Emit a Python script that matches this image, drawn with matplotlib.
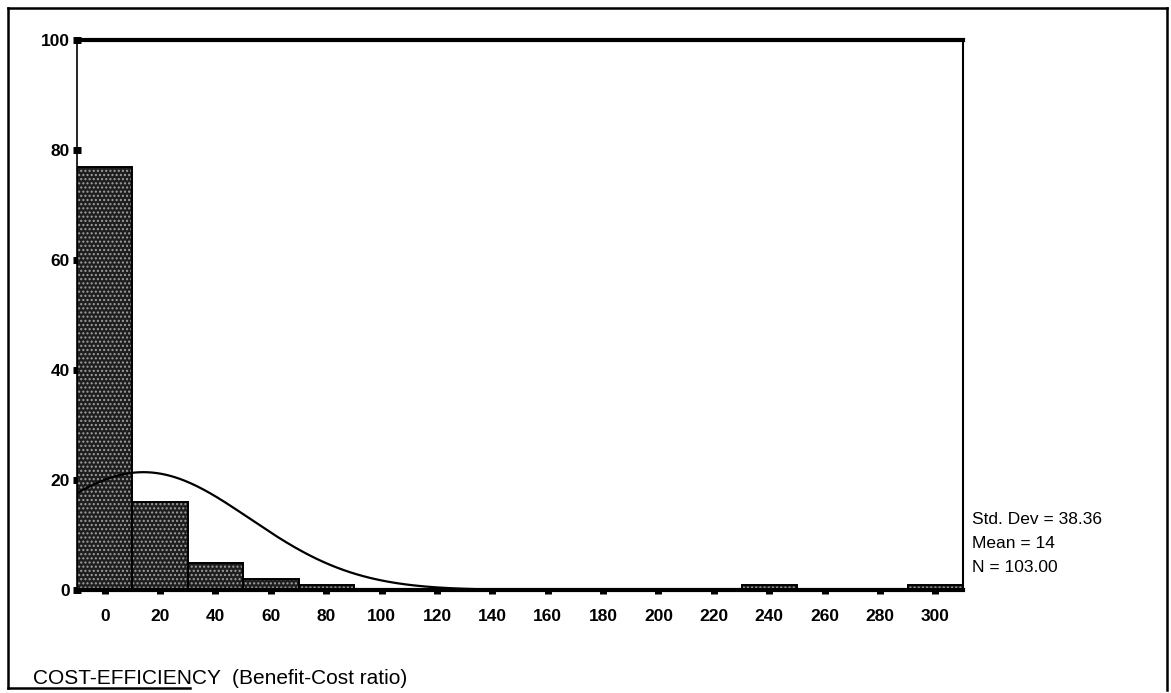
import numpy as np
import matplotlib.pyplot as plt
from matplotlib.lines import Line2D

plt.rcParams['font.family'] = ['Liberation Sans', 'DejaVu Sans']

# histogram bins (centres) and counts
bin_centers = [0, 20, 40, 60, 80, 240, 300]
counts = [77, 16, 5, 2, 1, 1, 1]
bin_width = 20

# summary statistics printed on the chart
std_dev = 38.36
mean = 14
n_total = 103

x_ticks = list(range(0, 301, 20))
y_ticks = [0, 20, 40, 60, 80, 100]

W, H = 1171, 693
fig = plt.figure(figsize=(W / 100, H / 100), dpi=100)
ax = fig.add_axes([77 / W, 1 - 590 / H, (963 - 77) / W, (590 - 40) / H])

# stippled dark bars
ax.bar(bin_centers, counts, width=bin_width, facecolor="#1e1e1e",
       edgecolor="#a0a0a0", hatch="....", linewidth=0, zorder=2)
ax.bar(bin_centers, counts, width=bin_width, fill=False,
       edgecolor="black", linewidth=1.4, zorder=3)

# normal curve with the same mean, sd and N
xs = np.linspace(-10, 310, 400)
ys = n_total * bin_width / (std_dev * np.sqrt(2 * np.pi)) * np.exp(-0.5 * ((xs - mean) / std_dev) ** 2)
ax.plot(xs, ys, color="black", linewidth=1.6, zorder=4)

ax.set_xlim(-10, 310)
ax.set_ylim(0, 100)
ax.set_xticks(x_ticks)
ax.set_yticks(y_ticks)
ax.tick_params(axis="x", direction="out", length=3, width=5, pad=11, labelsize=12.5)
ax.tick_params(axis="y", direction="inout", length=6, width=5, pad=2, labelsize=12.5)
for lab in ax.get_xticklabels() + ax.get_yticklabels():
    lab.set_fontweight("bold")

ax.spines["left"].set_linewidth(1.2)
ax.spines["right"].set_linewidth(1.5)
ax.spines["top"].set_linewidth(3)
ax.spines["bottom"].set_linewidth(3)

# stats box text at right
stats = [f"Std. Dev = {std_dev:.2f}", f"Mean = {mean}", f"N = {n_total:.2f}"]
for txt, yp in zip(stats, [520, 544, 568]):
    fig.text(972 / W, 1 - yp / H, txt, ha="left", va="center", fontsize=12.5)

fig.text(33 / W, 1 - 678 / H, "COST-EFFICIENCY  (Benefit-Cost ratio)",
         ha="left", va="center", fontsize=15)

# outer frame
frame_lines = [
    ([8, 8], [8, 688]),
    ([8, 1167], [8, 8]),
    ([1167, 1167], [8, 690]),
    ([8, 190], [688, 688]),
]
for xx, yy in frame_lines:
    fig.add_artist(Line2D([v / W for v in xx], [1 - v / H for v in yy],
                          color="black", linewidth=1.8))

fig.savefig("out.png", dpi=100)
